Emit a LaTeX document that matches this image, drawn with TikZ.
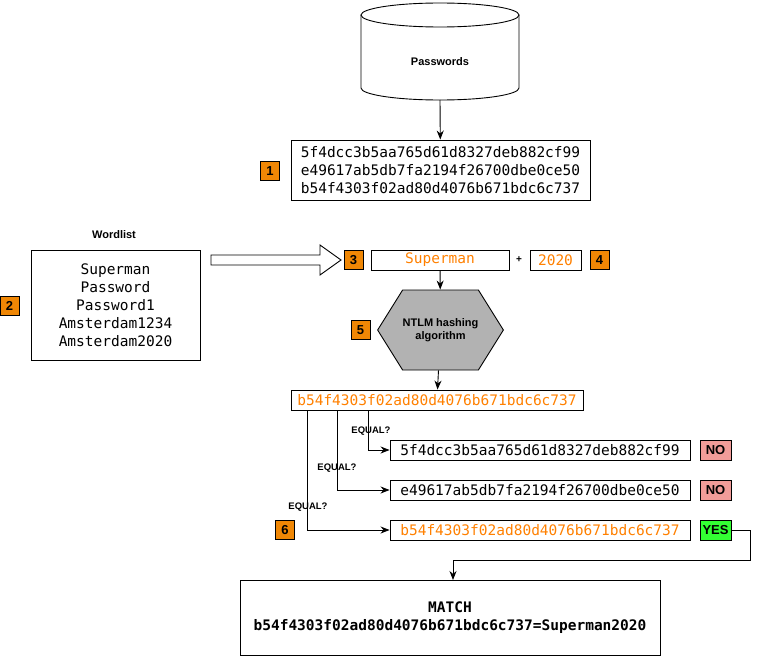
\documentclass[tikz,border=0pt]{standalone}
\usepackage{fontspec}
\setmainfont{Liberation Sans}
\newfontfamily\hashfont{DejaVu Sans Mono}
\usetikzlibrary{positioning, arrows.meta, shapes.symbols}
\definecolor{badgeorange}{HTML}{F08705}
\definecolor{hashorange}{HTML}{FF8000}
\definecolor{nored}{HTML}{F19C99}
\definecolor{yesgreen}{HTML}{33FF33}

\begin{document}
\begin{tikzpicture}[x=1pt, y=-1pt, >={Stealth[length=9pt,width=7pt]},
    box/.style = {draw, rectangle, inner sep=0pt, font=\hashfont\fontsize{14.5}{18}\selectfont},
    badge/.style = {draw, fill=badgeorange, inner sep=0pt, minimum width=19pt, minimum height=19pt, font=\bfseries\fontsize{13}{14}\selectfont},
    verdict/.style = {draw, inner sep=0pt, minimum width=31pt, minimum height=20pt, font=\bfseries\fontsize{13}{14}\selectfont},
    tag/.style = {font=\bfseries\fontsize{9.5}{11}\selectfont},
    every path/.style = {line width=0.9pt}]
    \useasboundingbox (0,0) rectangle (759,661);

    % Passwords store
    \draw (361,15) -- (361,88) arc[start angle=180, end angle=0, x radius=79, y radius=12] -- (519,15);
    \draw (440,15) ellipse[x radius=79, y radius=12];
    \node[tag, font=\bfseries\fontsize{11}{12}\selectfont] (pw) at (440,62) {Passwords};
    \coordinate (pwbot) at (440,100);

    % stored hashes
    \node[box, minimum width=299pt, minimum height=60pt, align=center] (stored) at (440.5,170)
        {5f4dcc3b5aa765d61d8327deb882cf99\\e49617ab5db7fa2194f26700dbe0ce50\\b54f4303f02ad80d4076b671bdc6c737};
    \node[badge] (b1) at (270,171) {1};
    \draw[->] (pwbot) -- (stored);

    % wordlist
    \node[tag, font=\bfseries\fontsize{11}{12}\selectfont] (wltitle) at (114,235) {Wordlist};
    \node[box, minimum width=169pt, minimum height=110pt, align=center] (wl) at (115.5,305)
        {Superman\\Password\\Password1\\Amsterdam1234\\Amsterdam2020};
    \node[badge] (b2) at (9.5,305.5) {2};
    \draw (211,255) -- (320,255) -- (320,245) -- (341,260) -- (320,275) -- (320,265) -- (211,265) -- cycle;

    % candidate
    \node[badge] (b3) at (353.5,260) {3};
    \node[box, minimum width=138pt, minimum height=20pt, text=hashorange] (word) at (440,260) {\raisebox{-1pt}{Superman}};
    \node[tag, font=\bfseries\fontsize{10}{12}\selectfont] (plus) at (519,260) {+};
    \node[box, minimum width=51pt, minimum height=20pt, text=hashorange] (year) at (555.5,260) {2020};
    \node[badge] (b4) at (599.5,260) {4};

    % hashing
    \node[draw, fill=black!30, signal, signal to=east and west, signal pointer angle=116,
        minimum width=113pt, minimum height=80pt, inner sep=0pt, align=center,
        font=\bfseries\fontsize{11}{13}\selectfont] (ntlm) at (440.5,330) {NTLM hashing\\algorithm};
    \node[badge] (b5) at (360.5,330) {5};
    \draw[->] (word) -- (ntlm);

    % result
    \node[box, minimum width=292pt, minimum height=20pt, text=hashorange] (res) at (437,400) {b54f4303f02ad80d4076b671bdc6c737};
    \draw[->] (ntlm) -- (res);

    % comparisons
    \node[box, minimum width=300pt, minimum height=20pt] (h1) at (540,450) {5f4dcc3b5aa765d61d8327deb882cf99};
    \node[box, minimum width=300pt, minimum height=20pt] (h2) at (540,490) {e49617ab5db7fa2194f26700dbe0ce50};
    \node[box, minimum width=300pt, minimum height=20pt, text=hashorange] (h3) at (540,530) {b54f4303f02ad80d4076b671bdc6c737};
    \node[verdict, fill=nored] (no1) at (715.5,450) {NO};
    \node[verdict, fill=nored] (no2) at (715.5,490) {NO};
    \node[verdict, fill=yesgreen] (yes) at (715.5,530) {YES};
    \node[badge] (b6) at (285,530) {6};

    \draw[->] (res.south -| 368,0) |- (h1.west);
    \draw[->] (res.south -| 337,0) |- (h2.west);
    \draw[->] (res.south -| 307,0) |- (h3.west);
    \node[tag] (eq1) at (371,431) {EQUAL?};
    \node[tag] (eq2) at (337,468) {EQUAL?};
    \node[tag] (eq3) at (308,507) {EQUAL?};

    % match
    \node[draw, minimum width=420pt, minimum height=75pt, inner sep=0pt, align=center,
        font=\hashfont\bfseries\fontsize{14.5}{18}\selectfont] (match) at (450,617.5)
        {MATCH\\b54f4303f02ad80d4076b671bdc6c737=Superman2020};
    \draw[->] (yes.east) -- (750,530) -- (750,560) -- (453,560) -- (453,580);
\end{tikzpicture}
\end{document}
